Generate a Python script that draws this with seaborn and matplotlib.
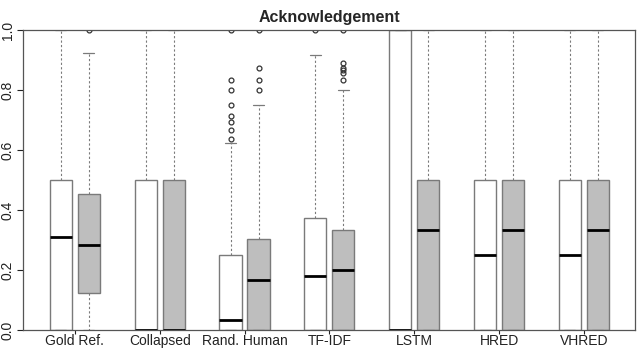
import pandas as pd
import matplotlib.pyplot as plt
import seaborn as sns

# Box summaries (lower whisker, q1, median, q3, upper whisker, outliers)
categories = ['Gold Ref.', 'Collapsed', 'Rand. Human', 'TF-IDF', 'LSTM', 'HRED', 'VHRED']
groups = ['Group 1', 'Group 2']

white_lo = [0.0, 0.0, 0.0, 0.0, 0.0, 0.0, 0.0]
white_q1 = [0.0, 0.0, 0.0, 0.0, 0.0, 0.0, 0.0]
white_med = [0.31, 0.0, 0.033, 0.18, 0.0, 0.25, 0.25]
white_q3 = [0.5, 0.5, 0.25, 0.375, 1.0, 0.5, 0.5]
white_hi = [1.0, 1.0, 0.625, 0.917, 1.0, 1.0, 1.0]
white_out = [[], [], [0.636, 0.667, 0.693, 0.714, 0.75, 0.8, 0.833, 1.0], [1.0], [], [], []]

gray_lo = [0.0, 0.0, 0.0, 0.0, 0.0, 0.0, 0.0]
gray_q1 = [0.125, 0.0, 0.0, 0.0, 0.0, 0.0, 0.0]
gray_med = [0.285, 0.0, 0.167, 0.2, 0.333, 0.333, 0.333]
gray_q3 = [0.455, 0.5, 0.305, 0.332, 0.5, 0.5, 0.5]
gray_hi = [0.922, 1.0, 0.75, 0.8, 1.0, 1.0, 1.0]
gray_out = [[1.0], [], [0.8, 0.833, 0.875, 1.0], [0.833, 0.857, 0.867, 0.875, 0.889, 1.0], [], [], []]


def sample(lo, q1, med, q3, hi, out):
    # repeat the read values so the quartiles land exactly on them
    k = len(out) + 2
    return [lo] + [q1] * k + [med] * k + [q3] * k + [hi] + list(out)


rows = []
summaries = [
    (groups[0], white_lo, white_q1, white_med, white_q3, white_hi, white_out),
    (groups[1], gray_lo, gray_q1, gray_med, gray_q3, gray_hi, gray_out),
]
for g, lo, q1, med, q3, hi, out in summaries:
    for i, cat in enumerate(categories):
        for v in sample(lo[i], q1[i], med[i], q3[i], hi[i], out[i]):
            rows.append({'Model': cat, 'Group': g, 'Score': v})
df = pd.DataFrame(rows)

sns.set_theme(style='ticks')
plt.rcParams['font.family'] = ['Liberation Sans', 'DejaVu Sans']

edge = '#7a7a7a'
fig = plt.figure(figsize=(6.4, 3.5), dpi=100)
ax = fig.add_axes([0.036, 0.057, 0.956, 0.857])

sns.boxplot(data=df, x='Model', y='Score', hue='Group', order=categories, hue_order=groups,
            palette={'Group 1': 'white', 'Group 2': '#bebebe'}, saturation=1,
            width=0.66, gap=0.21, whis=1.5, linecolor=edge, linewidth=1,
            legend=False, ax=ax,
            medianprops={'color': 'black', 'linewidth': 2},
            whiskerprops={'color': edge, 'linewidth': 0.8, 'linestyle': (0, (2, 2))},
            capprops={'color': edge, 'linewidth': 0.9},
            flierprops={'marker': 'o', 'markersize': 3.5, 'markerfacecolor': 'none',
                        'markeredgecolor': '#333333', 'markeredgewidth': 0.9})

ax.set_xlim(-0.61, 6.6)
ax.set_ylim(0, 1)
ax.set_yticks([0.0, 0.2, 0.4, 0.6, 0.8, 1.0])
ax.set_yticklabels(['0.0', '0.2', '0.4', '0.6', '0.8', '1.0'], rotation=90, va='center')
ax.set_xlabel('')
ax.set_ylabel('')
ax.tick_params(axis='y', labelsize=10, colors='#222222', length=4, width=0.8, pad=2)
ax.tick_params(axis='x', labelsize=10, colors='#222222', length=3, width=0.8, pad=0)
for s in ax.spines.values():
    s.set_visible(True)
    s.set_color('#555555')
    s.set_linewidth(0.9)
ax.set_title('Acknowledgement', fontsize=11.5, fontweight='bold', pad=6)

fig.savefig('out.png', dpi=100)
